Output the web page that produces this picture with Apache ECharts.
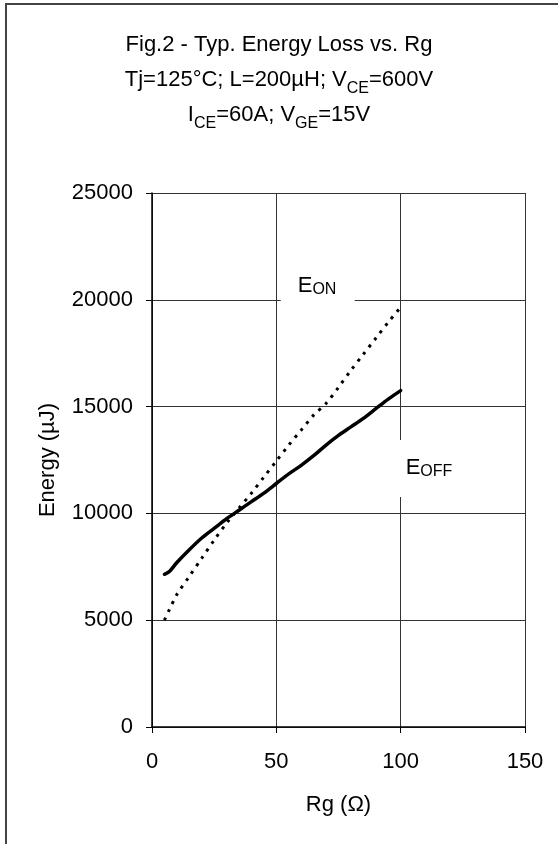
<!DOCTYPE html>
<html>
<head>
<meta charset="utf-8">
<script src="https://cdn.jsdelivr.net/npm/echarts@6/dist/echarts.min.js"></script>
<style>
html,body{margin:0;padding:0;background:#fff;}
#main{width:558px;height:844px;}
</style>
</head>
<body>
<div id="main"></div>
<script>
// Rg in ohm
var rg = [5, 7, 10, 15, 20, 25, 30, 35, 40, 45, 50, 55, 60, 65, 70, 75, 80, 85, 90, 95, 100];
// energy in uJ
var eOff = [7150, 7280, 7700, 8300, 8850, 9300, 9750, 10150, 10550, 10950, 11400, 11850, 12250, 12700, 13200, 13650, 14050, 14450, 14900, 15350, 15750];
var eOn = [5000, 5500, 6200, 7050, 7900, 8750, 9550, 10250, 10950, 11700, 12450, 13200, 13900, 14600, 15150, 15900, 16700, 17450, 18200, 18950, 19650];
// where the curve names sit (data units)
var eOnLabelAt = [58.6, 20650];
var eOffLabelAt = [102, 12130];

var font = "'Liberation Sans', Arial, sans-serif";

function pairs(xs, ys) {
  var out = [];
  for (var i = 0; i < xs.length; i++) {
    out.push([xs[i], ys[i]]);
  }
  return out;
}

var option = {
  animation: false,
  backgroundColor: '#fff',
  title: {
    left: 'center',
    top: 22,
    text: '{a|Fig.2 - Typ. Energy Loss vs. Rg}\n{a|Tj=125°C; L=200µH; V}{s|CE}{a|=600V}\n{a|I}{s|CE}{a|=60A; V}{s|GE}{a|=15V}',
    textStyle: {
      fontWeight: 'normal',
      rich: {
        a: {fontFamily: font, fontSize: 22, fontWeight: 'normal', color: '#000', lineHeight: 35},
        s: {fontFamily: font, fontSize: 16, fontWeight: 'normal', color: '#000', lineHeight: 22, verticalAlign: 'bottom'}
      }
    }
  },
  grid: {left: 152, right: 33, top: 193, bottom: 117},
  xAxis: {
    type: 'value',
    min: 0,
    max: 150,
    interval: 50,
    name: 'Rg (Ω)',
    nameLocation: 'middle',
    nameGap: 67,
    nameTextStyle: {fontFamily: font, fontSize: 22, color: '#000'},
    axisLine: {show: true, onZero: false, lineStyle: {color: '#000', width: 1.5}},
    axisTick: {show: true, inside: false, length: 6, lineStyle: {color: '#000'}},
    axisLabel: {fontFamily: font, fontSize: 22, color: '#000', margin: 24},
    splitLine: {show: true, lineStyle: {color: '#333', width: 1}}
  },
  yAxis: {
    type: 'value',
    min: 0,
    max: 25000,
    interval: 5000,
    name: 'Energy (µJ)',
    nameLocation: 'middle',
    nameGap: 93,
    nameTextStyle: {fontFamily: font, fontSize: 22, color: '#000'},
    axisLine: {show: true, lineStyle: {color: '#000', width: 1.5}},
    axisTick: {show: true, inside: false, length: 6, lineStyle: {color: '#000'}},
    axisLabel: {
      fontFamily: font, fontSize: 22, color: '#000', margin: 19,
      formatter: function (v) { return String(v); }
    },
    splitLine: {show: true, lineStyle: {color: '#333', width: 1}}
  },
  series: [
    {
      name: 'EOFF',
      type: 'line',
      data: pairs(rg, eOff),
      showSymbol: false,
      smooth: 0.3,
      lineStyle: {color: '#000', width: 3.5, type: 'solid', cap: 'round'},
      z: 5
    },
    {
      name: 'EON',
      type: 'line',
      data: pairs(rg, eOn),
      showSymbol: false,
      smooth: 0.3,
      lineStyle: {color: '#000', width: 3, type: [3, 6]},
      z: 5
    }
  ],
  graphic: [
    {
      id: 'frame',
      type: 'rect',
      shape: {x: 6, y: 4, width: 620, height: 900},
      style: {fill: 'none', stroke: '#444', lineWidth: 2},
      z: -10
    }
  ]
};

var chart = echarts.init(document.getElementById('main'));
chart.setOption(option);

var pOn = chart.convertToPixel({gridIndex: 0}, eOnLabelAt);
var pOff = chart.convertToPixel({gridIndex: 0}, eOffLabelAt);
var rich = {
  e: {fontFamily: font, fontSize: 22, color: '#000', lineHeight: 24},
  s: {fontFamily: font, fontSize: 16, color: '#000', lineHeight: 16, verticalAlign: 'bottom'}
};

chart.setOption({
  graphic: [
    {
      id: 'onBox', type: 'rect', z: 8,
      shape: {x: pOn[0] - 17, y: pOn[1] - 12, width: 74, height: 30},
      style: {fill: '#fff'}
    },
    {
      id: 'onText', type: 'text', z: 9,
      x: pOn[0], y: pOn[1],
      style: {text: '{e|E}{s|ON}', rich: rich, textAlign: 'left', textVerticalAlign: 'middle'}
    },
    {
      id: 'offBox', type: 'rect', z: 8,
      shape: {x: pOff[0] - 11, y: pOff[1] - 28, width: 70, height: 57},
      style: {fill: '#fff'}
    },
    {
      id: 'offText', type: 'text', z: 9,
      x: pOff[0], y: pOff[1],
      style: {text: '{e|E}{s|OFF}', rich: rich, textAlign: 'left', textVerticalAlign: 'middle'}
    }
  ]
});
</script>
</body>
</html>
